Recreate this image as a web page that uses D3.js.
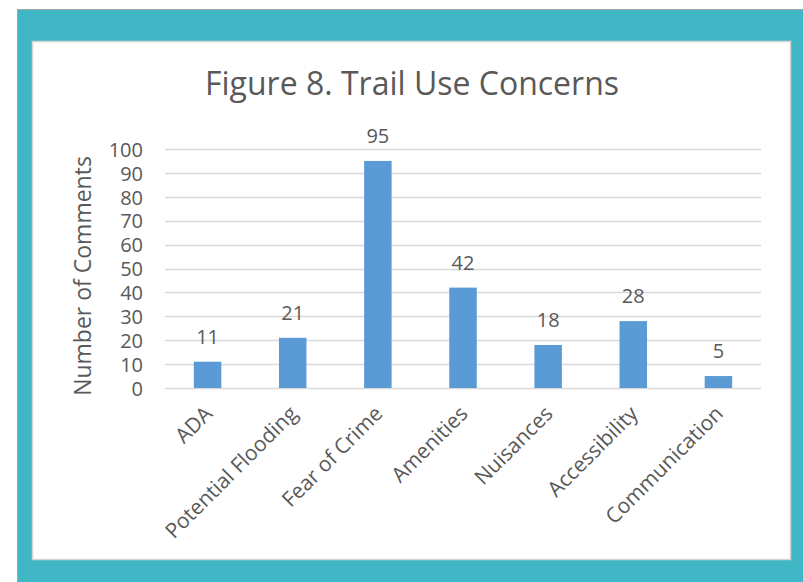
<!DOCTYPE html>
<html><head><meta charset="utf-8">
<script src="https://cdn.jsdelivr.net/npm/d3@7"></script>
<style>html,body{margin:0;padding:0;background:#fff;}svg{display:block;}</style>
</head><body>
<svg id="c" width="803" height="582"></svg>
<script>
const categories = ["ADA","Potential Flooding","Fear of Crime","Amenities","Nuisances","Accessibility","Communication"];
const values = [11,21,95,42,18,28,5];
const yTicks = [0,10,20,30,40,50,60,70,80,90,100];
const title = "Figure 8. Trail Use Concerns";
const yTitle = "Number of Comments";

const svg = d3.select("#c");
const font = "'Open Sans', sans-serif";
const txt = "#595959";

// frame
svg.append("rect").attr("x",17.5).attr("y",9.5).attr("width",800).attr("height",580).attr("fill","#41b6c4").attr("stroke","#a6a6a6").attr("stroke-width",1);
svg.append("rect").attr("x",32.5).attr("y",41.5).attr("width",758).attr("height",518).attr("fill","#fff").attr("stroke","#d4d4d4").attr("stroke-width",1.5);

const x = d3.scaleBand().domain(categories).range([165,761]);
const y = d3.scaleLinear().domain([0,100]).range([388,149]);

// gridlines
svg.append("g").selectAll("line").data(yTicks).join("line")
  .attr("x1",165).attr("x2",761).attr("y1",d=>Math.round(y(d))+0.5).attr("y2",d=>Math.round(y(d))+0.5)
  .attr("stroke","#d9d9d9").attr("stroke-width",1.3);

// y axis labels
const yAxis = d3.axisLeft(y).tickValues(yTicks).tickSize(0).tickPadding(0);
const gy = svg.append("g").attr("transform","translate(143,0)").call(yAxis);
gy.select(".domain").remove();
gy.selectAll("text").attr("font-family",font).attr("font-size","20px").attr("fill",txt).attr("dy","0.36em");

// bars
const bw = 27.5;
svg.append("g").selectAll("rect").data(values).join("rect")
  .attr("x",(d,i)=>x(categories[i])+x.bandwidth()/2-bw/2)
  .attr("y",d=>y(d)).attr("width",bw).attr("height",d=>y(0)-y(d))
  .attr("fill","#5b9bd5");

// data labels
svg.append("g").selectAll("text").data(values).join("text")
  .attr("x",(d,i)=>x(categories[i])+x.bandwidth()/2)
  .attr("y",d=>y(d)-18)
  .attr("text-anchor","middle").attr("font-family",font).attr("font-size","20px").attr("fill",txt)
  .text(d=>d);

// x labels
const xAxis = d3.axisBottom(x).tickSize(0).tickPadding(0);
const gx = svg.append("g").attr("transform","translate(0,388)").call(xAxis);
gx.select(".domain").remove();
gx.selectAll("text").attr("font-family",font).attr("font-size","21px").attr("fill",txt)
  .attr("text-anchor","end").attr("dy",null).attr("y",0)
  .attr("transform","translate(6,27) rotate(-45)");

// title
svg.append("text").attr("x",412).attr("y",95).attr("text-anchor","middle")
  .attr("font-family",font).attr("font-size","32px").attr("fill",txt).text(title);

// y title
svg.append("text").attr("transform","translate(91,276) rotate(-90)").attr("text-anchor","middle")
  .attr("font-family",font).attr("font-size","23px").attr("fill",txt).text(yTitle);
</script>
</body></html>
